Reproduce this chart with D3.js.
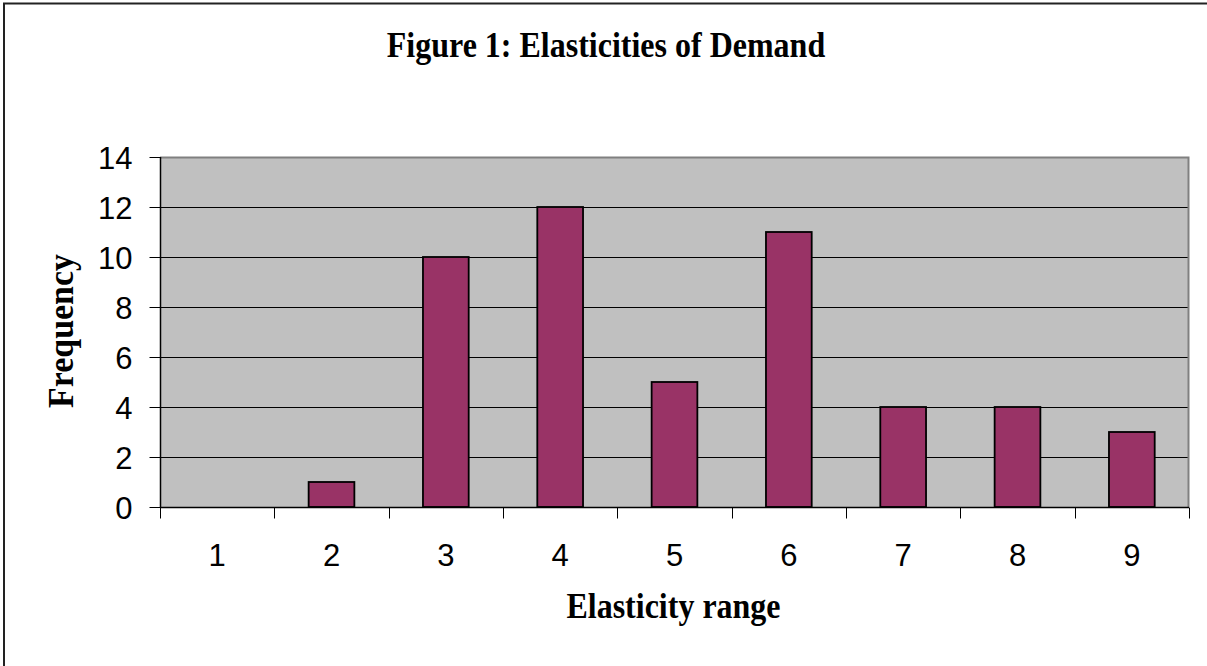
<!DOCTYPE html>
<html>
<head>
<meta charset="utf-8">
<script src="https://cdn.jsdelivr.net/npm/d3@7/dist/d3.min.js"></script>
<style>
  html, body { margin: 0; padding: 0; background: #fff; }
  svg { display: block; }
</style>
</head>
<body>
<svg id="chart" width="1207" height="666"></svg>
<script>
const categories = ["1", "2", "3", "4", "5", "6", "7", "8", "9"];
const frequencies = [0, 1, 10, 12, 5, 11, 4, 4, 3];
const yTicks = [0, 2, 4, 6, 8, 10, 12, 14];
const titleText = "Figure 1: Elasticities of Demand";
const xTitle = "Elasticity range";
const yTitle = "Frequency";

const W = 1207, H = 666;
const plot = { left: 160, right: 1189, top: 157, bottom: 507 };

const svg = d3.select("#chart");

// outer frame
svg.append("rect")
  .attr("x", 4).attr("y", 3.5)
  .attr("width", W + 10).attr("height", H + 10)
  .attr("fill", "#fff").attr("stroke", "#222").attr("stroke-width", 2);

const x = d3.scaleBand().domain(categories)
  .range([plot.left, plot.right]).paddingInner(0).paddingOuter(0);
const y = d3.scaleLinear().domain([0, 14]).range([plot.bottom, plot.top]);

// plot background
svg.append("rect")
  .attr("x", plot.left).attr("y", plot.top)
  .attr("width", plot.right - plot.left).attr("height", plot.bottom - plot.top)
  .attr("fill", "#c0c0c0");

// gridlines
svg.append("g").selectAll("line")
  .data(yTicks.filter(d => d > 0 && d < 14))
  .join("line")
  .attr("x1", plot.left).attr("x2", plot.right)
  .attr("y1", d => Math.round(y(d)) + 0.5).attr("y2", d => Math.round(y(d)) + 0.5)
  .attr("stroke", "#000").attr("stroke-width", 1);

// top & right border (grey)
svg.append("path")
  .attr("d", `M${plot.left},${plot.top + 0.5}H${plot.right - 0.5}V${plot.bottom}`)
  .attr("fill", "none").attr("stroke", "#808080").attr("stroke-width", 2);

// bars
const bw = x.bandwidth() * 0.4;
svg.append("g").selectAll("rect")
  .data(categories.map((c, i) => ({ c, v: frequencies[i] })).filter(d => d.v > 0))
  .join("rect")
  .attr("x", d => x(d.c) + (x.bandwidth() - bw) / 2)
  .attr("width", bw)
  .attr("y", d => y(d.v))
  .attr("height", d => y(0) - y(d.v))
  .attr("fill", "#993366")
  .attr("stroke", "#000").attr("stroke-width", 1.8);

// y axis
const yAxis = d3.axisLeft(y).tickValues(yTicks).tickSize(11).tickPadding(17);
const gy = svg.append("g").attr("transform", `translate(${plot.left + 0.5},0)`).call(yAxis);
gy.select(".domain").attr("stroke", "#000").attr("stroke-width", 1.5)
  .attr("d", `M0,${plot.top}V${plot.bottom}`);
gy.selectAll(".tick line").attr("stroke", "#000");
gy.selectAll(".tick text")
  .attr("font-family", "'Liberation Sans', Arial, sans-serif")
  .attr("font-size", 31).attr("fill", "#000").attr("dy", "0.36em");

// x axis
const xAxis = d3.axisBottom(x).tickSize(0).tickPadding(36);
const gx = svg.append("g").attr("transform", `translate(0,${plot.bottom + 0.5})`).call(xAxis);
gx.select(".domain").attr("stroke", "#000").attr("stroke-width", 1.5)
  .attr("d", `M${plot.left},0H${plot.right}`);
gx.selectAll(".tick text")
  .attr("font-family", "'Liberation Sans', Arial, sans-serif")
  .attr("font-size", 31).attr("fill", "#000");
// boundary ticks between categories
const bounds = categories.map(c => x(c)).concat([plot.right]);
gx.append("g").selectAll("line").data(bounds).join("line")
  .attr("x1", d => Math.round(d) + 0.5).attr("x2", d => Math.round(d) + 0.5)
  .attr("y1", 0).attr("y2", 11)
  .attr("stroke", "#000").attr("stroke-width", 1);

// titles (slightly stretched vertically, like the reference rendering)
svg.append("text")
  .attr("transform", `translate(606,57) scale(1,1.12)`)
  .attr("text-anchor", "middle")
  .attr("font-family", "'Liberation Serif', 'Times New Roman', serif")
  .attr("font-weight", "bold").attr("font-size", 32)
  .text(titleText);

svg.append("text")
  .attr("transform", `translate(${(plot.left + plot.right) / 2 - 1},618) scale(1,1.12)`)
  .attr("text-anchor", "middle")
  .attr("font-family", "'Liberation Serif', 'Times New Roman', serif")
  .attr("font-weight", "bold").attr("font-size", 32)
  .text(xTitle);

svg.append("text")
  .attr("transform", `translate(73,331) rotate(-90) scale(1.06,1.1)`)
  .attr("text-anchor", "middle")
  .attr("font-family", "'Liberation Serif', 'Times New Roman', serif")
  .attr("font-weight", "bold").attr("font-size", 32)
  .text(yTitle);
</script>
</body>
</html>
